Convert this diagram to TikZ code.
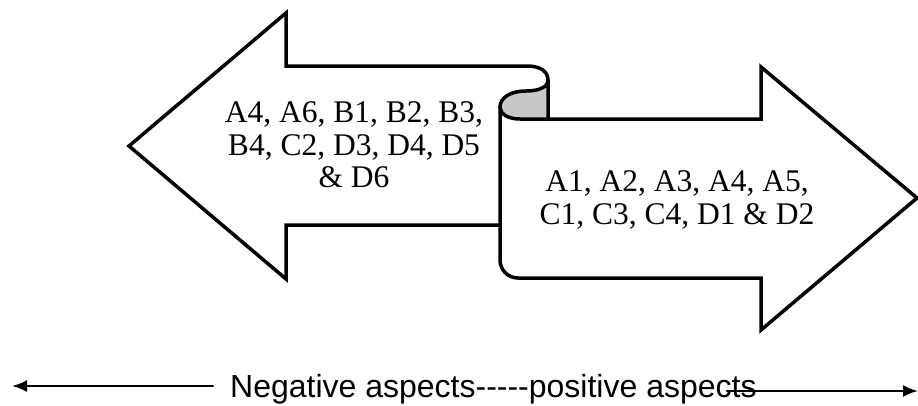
\documentclass[tikz,border=0pt]{standalone}
\usepackage{fontspec}
\setmainfont{Liberation Serif}
\newfontfamily\arialfont{Liberation Sans}
\usepackage{tikz}
\usetikzlibrary{arrows.meta}

\begin{document}
\begin{tikzpicture}
		[x=1pt,y=-1pt,line cap=round,
		%Styles
		big arrow/.style={line width=3.5pt,line join=miter},
		curl/.style={line width=3.5pt,fill=curlgray},
		aspect text/.style={align=center,inner sep=0pt,font=\fontsize{31.5}{32.5}\selectfont},
		scale text/.style={inner sep=0pt,anchor=base west,font=\arialfont\fontsize{32}{36}\selectfont},
		scale line/.style={line width=2.3pt,-{Latex[length=15pt,width=12pt]}}
		]
		
		%Colors
		\colorlet{curlgray}{black!22}	%inside of the scroll
		
		\useasboundingbox (0,0) rectangle (918,405);
		
		%The graphic
		%left arrow, its right end runs under the scroll
		\draw[big arrow] (500,225) -- (286,225) -- (286,279) -- (129,146) -- (286,13) -- (286,66)
			-- (527,66) .. controls (541,66) and (548,72) .. (548,80) -- (548,119);
		
		%right arrow
		\draw[big arrow] (548,119) -- (761,119) -- (761,67) -- (917,198) -- (761,330) -- (761,278)
			[rounded corners=18pt] -- (500,278) [sharp corners] -- (500,107);
		
		%the curl of the scroll
		\draw[curl] (548,80) .. controls (548,87) and (539,91) .. (526,91)
			.. controls (510,91) and (500,98) .. (500,107)
			.. controls (500,114) and (508,119) .. (520,119) -- (548,119) -- cycle;
		
		\node[aspect text] (neg) at (354,145) {A4, A6, B1, B2, B3,\\ B4, C2, D3, D4, D5\\ \& D6};
		\node[aspect text] (pos) at (677,200) {A1, A2, A3, A4, A5,\\ C1, C3, C4, D1 \& D2};
		
		%scale below
		\node[scale text] (scale) at (230,397) {Negative aspects-----positive aspects};
		\coordinate (negend) at (12,386);
		\coordinate (posend) at (918,391);
		\draw[scale line] (scale.west |- negend) ++(-17,0) coordinate (negstart) -- (negend);
		\draw[scale line] (727,391) coordinate (posstart) -- (posend);
	\end{tikzpicture}
\end{document}
